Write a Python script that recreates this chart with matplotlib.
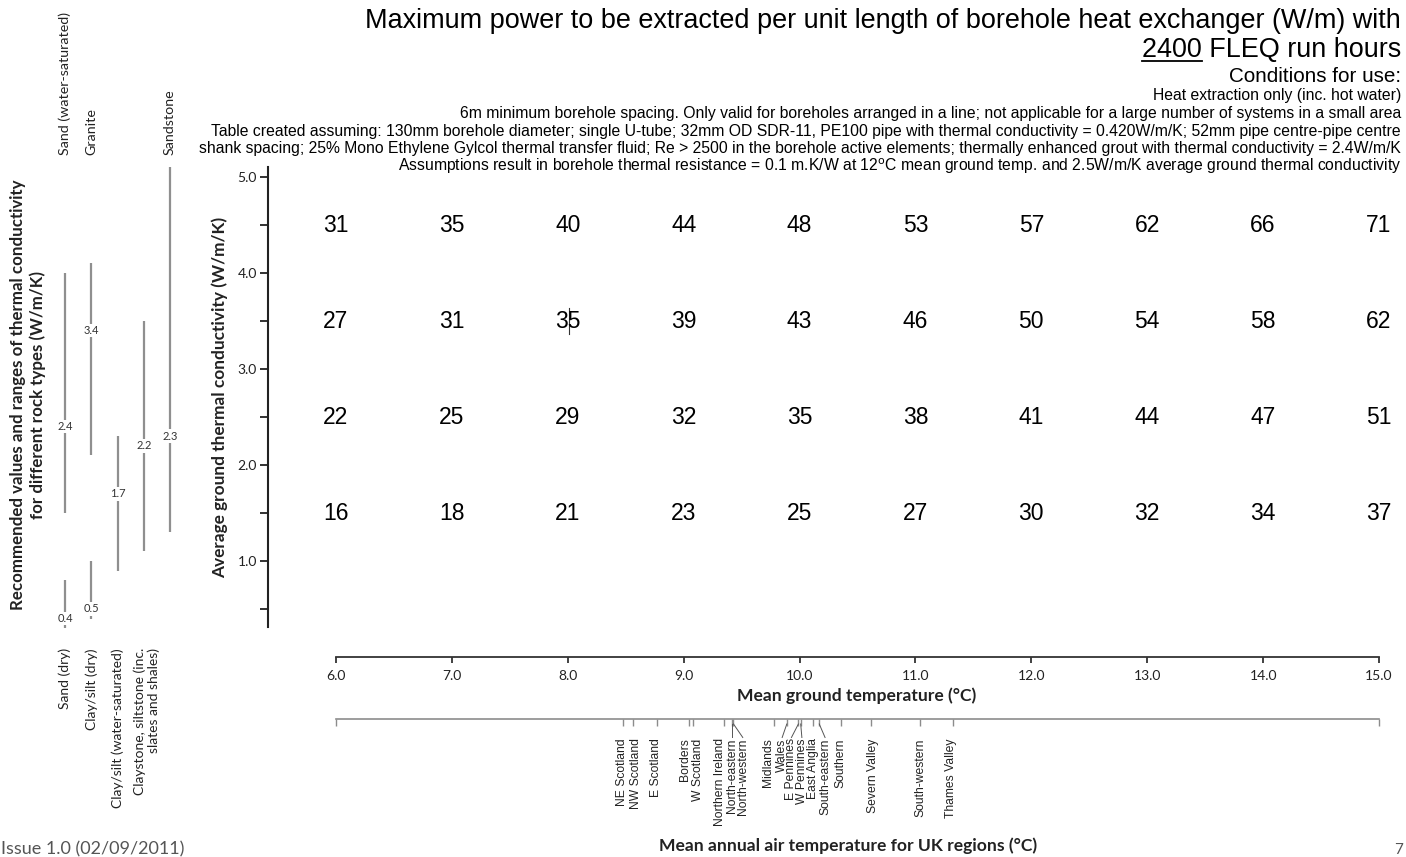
import matplotlib
matplotlib.use("Agg")
import matplotlib.pyplot as plt
from matplotlib.lines import Line2D

# ---------------- data ----------------
ground_temps = [6.0, 7.0, 8.0, 9.0, 10.0, 11.0, 12.0, 13.0, 14.0, 15.0]
conductivities = [4.5, 3.5, 2.5, 1.5]
power_45 = [31, 35, 40, 44, 48, 53, 57, 62, 66, 71]
power_35 = [27, 31, 35, 39, 43, 46, 50, 54, 58, 62]
power_25 = [22, 25, 29, 32, 35, 38, 41, 44, 47, 51]
power_15 = [16, 18, 21, 23, 25, 27, 30, 32, 34, 37]
power_rows = [power_45, power_35, power_25, power_15]
y_major = [1.0, 2.0, 3.0, 4.0, 5.0]
y_minor = [0.5, 1.5, 2.5, 3.5, 4.5]

regions = ["NE Scotland", "NW Scotland", "E Scotland", "Borders", "W Scotland",
           "Northern Ireland", "North-eastern", "North-western", "Midlands", "Wales",
           "E Pennines", "W Pennines", "East Anglia", "South-eastern", "Southern",
           "Severn Valley", "South-western", "Thames Valley"]
region_pos = [8.48, 8.56, 8.77, 9.05, 9.08, 9.35, 9.42, 9.43, 9.78, 9.89,
              9.99, 10.01, 10.12, 10.17, 10.36, 10.62, 11.04, 11.32]
region_label_pos = [8.47, 8.59, 8.76, 9.01, 9.12, 9.31, 9.42, 9.51, 9.73, 9.85,
                    9.93, 10.02, 10.12, 10.22, 10.35, 10.63, 11.04, 11.31]
leader_regions = ["North-eastern", "North-western", "Wales", "E Pennines",
                  "W Pennines", "South-eastern"]

rock_names = ["Sand (dry)", "Clay/silt (dry)", "Clay/silt (water-saturated)",
              "Claystone, siltstone (inc.\nslates and shales)",
              "Sand (water-saturated)", "Granite", "Sandstone"]
rock_column = [0, 1, 2, 3, 0, 1, 4]
rock_low = [0.3, 0.4, 0.9, 1.1, 1.5, 2.1, 1.3]
rock_high = [0.8, 1.0, 2.3, 3.5, 4.0, 4.1, 5.1]
rock_rec = [0.4, 0.5, 1.7, 2.2, 2.4, 3.4, 2.3]
rock_name_top = [False, False, False, False, True, True, True]

# ---------------- layout helpers ----------------
W, H = 1406, 857
fig = plt.figure(figsize=(W / 100, H / 100), dpi=100)

def fx(px):
    return px / W

def fy(py):
    return 1 - py / H

PX6, PX15 = 336, 1379
ppx = (PX15 - PX6) / 9.0

def dx(px):
    return 6 + (px - PX6) / ppx

ARIAL = "Liberation Sans"
GILL = "Lato"
DARK = "#222222"
GREY = "#8c8c8c"
BOLD_SIZE = 12.6

Y_TOP_PX, Y_ZERO_PX = 167, 657
ytop = (Y_ZERO_PX - Y_TOP_PX) / 96.0
AX_L, AX_R = 262, 1395

# ---------------- main axes ----------------
ax = fig.add_axes([fx(AX_L), fy(Y_ZERO_PX), fx(AX_R) - fx(AX_L), (Y_ZERO_PX - Y_TOP_PX) / H])
ax.set_xlim(dx(AX_L), dx(AX_R))
ax.set_ylim(0, ytop)
ax.patch.set_alpha(0)
for s in ["top", "right"]:
    ax.spines[s].set_visible(False)
ax.spines["left"].set_position(("data", dx(268)))
ax.spines["left"].set_bounds(0.31, ytop)
ax.spines["bottom"].set_bounds(ground_temps[0], ground_temps[-1])
ax.spines["left"].set_color(DARK)
ax.spines["bottom"].set_color("#333333")
ax.spines["left"].set_linewidth(1.5)
ax.spines["bottom"].set_linewidth(1.3)

ax.set_yticks(y_major)
ax.set_yticklabels([f"{v:.1f}" for v in y_major], fontfamily=GILL, fontsize=10, color=DARK)
ax.set_yticks(y_minor, minor=True)
ax.tick_params(axis="y", which="both", direction="out", length=6, width=1.3, color=DARK, pad=2)
ax.set_xticks(ground_temps)
ax.set_xticklabels([f"{v:.1f}" for v in ground_temps], fontfamily=GILL, fontsize=10, color=DARK)
ax.tick_params(axis="x", direction="out", length=4, width=1.3, color="#333333", pad=5)

for cond, row in zip(conductivities, power_rows):
    for t, v in zip(ground_temps, row):
        ax.text(t, cond, f"{v}", ha="center", va="center", fontsize=16.5,
                fontfamily=ARIAL, color="black")
# text cursor artefact in the "35" cell
ax.plot([ground_temps[2] + 0.01] * 2, [conductivities[1] - 0.14, conductivities[1] + 0.14],
        color="#333333", lw=0.8)

fig.text(fx(220), fy(397), "Average ground thermal conductivity (W/m/K)", rotation=90,
         ha="center", va="center", fontsize=12.4, fontweight="bold", fontfamily=GILL, color=DARK)
fig.text(fx(857), fy(696), "Mean ground temperature (\u00b0C)", ha="center", va="center",
         fontsize=BOLD_SIZE, fontweight="bold", fontfamily=GILL, color=DARK)

# ---------------- air temperature axis ----------------
AIR_TOP, AIR_BOT = 719, 740
ax_air = fig.add_axes([fx(AX_L), fy(AIR_BOT), fx(AX_R) - fx(AX_L), (AIR_BOT - AIR_TOP) / H])
ax_air.set_xlim(dx(AX_L), dx(AX_R))
ax_air.set_ylim(0, 1)
ax_air.patch.set_alpha(0)
for s in ["bottom", "left", "right"]:
    ax_air.spines[s].set_visible(False)
ax_air.spines["top"].set_bounds(ground_temps[0], ground_temps[-1])
ax_air.spines["top"].set_color(GREY)
ax_air.spines["top"].set_linewidth(1.2)
ax_air.xaxis.tick_top()
ax_air.set_xticks([ground_temps[0]] + region_pos + [ground_temps[-1]])
ax_air.tick_params(axis="x", direction="in", length=5, width=1.0, color=GREY,
                   labeltop=False, labelbottom=False)
ax_air.set_yticks([])
tick_end = 1 - 5 / (AIR_BOT - AIR_TOP)
for name, p, lp in zip(regions, region_pos, region_label_pos):
    if name in leader_regions:
        ax_air.plot([p, lp], [tick_end, 0.12], color="#555555", lw=0.7, clip_on=False)
    ax_air.text(lp, 0.08, name, rotation=90, ha="center", va="top", fontsize=8.7,
                fontfamily=ARIAL, color=DARK)

fig.text(fx(848), fy(846), "Mean annual air temperature for UK regions (\u00b0C)",
         ha="center", va="center", fontsize=BOLD_SIZE, fontweight="bold", fontfamily=GILL, color=DARK)

# ---------------- rock type panel ----------------
COL0, COLSTEP = 65, 26.25
R_L, R_R = 40, 195
ax_r = fig.add_axes([fx(R_L), fy(Y_ZERO_PX), fx(R_R) - fx(R_L), (Y_ZERO_PX - Y_TOP_PX) / H])
ax_r.set_xlim((R_L - COL0) / COLSTEP, (R_R - COL0) / COLSTEP)
ax_r.set_ylim(0, ytop)
ax_r.axis("off")
for name, c, lo, hi, rec, top in zip(rock_names, rock_column, rock_low, rock_high,
                                      rock_rec, rock_name_top):
    ax_r.plot([c, c], [lo, hi], color="#8f8f8f", lw=1.6, solid_capstyle="butt", clip_on=False)
    ax_r.text(c, rec, f"{rec}", ha="center", va="center", fontsize=8, fontfamily=GILL,
              color="#333333", bbox=dict(fc="white", ec="none", pad=1.0))
    if top:
        ax_r.text(c, (Y_ZERO_PX - 155) / 96.0, name, rotation=90, ha="center", va="bottom",
                  fontsize=10.3, fontfamily=GILL, color=DARK)
    else:
        ax_r.text(c + (0.12 if "\n" in name else 0), (Y_ZERO_PX - 648) / 96.0, name,
                  rotation=90, ha="center", va="top", multialignment="right",
                  fontsize=10, fontfamily=GILL, color=DARK, linespacing=1.1)

fig.text(fx(28), fy(395),
         "Recommended values and ranges of thermal conductivity\nfor different rock types (W/m/K)",
         rotation=90, ha="center", va="center", multialignment="center", fontsize=12.2,
         fontweight="bold", fontfamily=GILL, color=DARK, linespacing=1.2)

# ---------------- title block ----------------
RX = fx(1401)
TSIZE = 19.45
fig.text(RX, fy(28), "Maximum power to be extracted per unit length of borehole heat exchanger (W/m) with",
         ha="right", va="baseline", fontsize=TSIZE, fontfamily=ARIAL)
t2 = fig.text(RX, fy(57), "2400 FLEQ run hours", ha="right", va="baseline", fontsize=TSIZE,
              fontfamily=ARIAL)
fig.text(RX, fy(82), "Conditions for use:", ha="right", va="baseline", fontsize=14.9,
         fontfamily=ARIAL)
cond_lines = [
    "Heat extraction only (inc. hot water)",
    "6m minimum borehole spacing. Only valid for boreholes arranged in a line; not applicable for a large number of systems in a small area",
    "Table created assuming: 130mm borehole diameter; single U-tube; 32mm OD SDR-11, PE100 pipe with thermal conductivity = 0.420W/m/K; 52mm pipe centre-pipe centre",
    "shank spacing; 25% Mono Ethylene Gylcol thermal transfer fluid; Re > 2500 in the borehole active elements; thermally enhanced grout with thermal conductivity = 2.4W/m/K",
    "Assumptions result in borehole thermal resistance = 0.1 m.K/W at 12$^{\\mathrm{o}}$C mean ground temp. and 2.5W/m/K average ground thermal conductivity",
]
for i, line in enumerate(cond_lines):
    fig.text(RX, fy(95.5 + 17.8 * i), line, ha="right", va="center", fontsize=11.3,
             fontfamily=ARIAL)

# underline "2400"
fig.canvas.draw()
r = fig.canvas.get_renderer()
bb = t2.get_window_extent(r)
tmp = fig.text(0, 0, "2400", fontsize=TSIZE, fontfamily=ARIAL)
wnum = tmp.get_window_extent(r).width
tmp.remove()
uy = fy(60.5)
fig.add_artist(Line2D([bb.x0 / W, (bb.x0 + wnum) / W], [uy, uy], transform=fig.transFigure,
                      color="black", lw=1.3))

# ---------------- footer ----------------
fig.text(fx(1), fy(857), "Issue 1.0 (02/09/2011)", ha="left", va="bottom", fontsize=13,
         fontfamily=GILL, color="#555555")
fig.text(fx(1403), fy(857), "7", ha="right", va="bottom", fontsize=11, fontfamily=GILL,
         color="#555555")

fig.savefig("out.png", dpi=100)
